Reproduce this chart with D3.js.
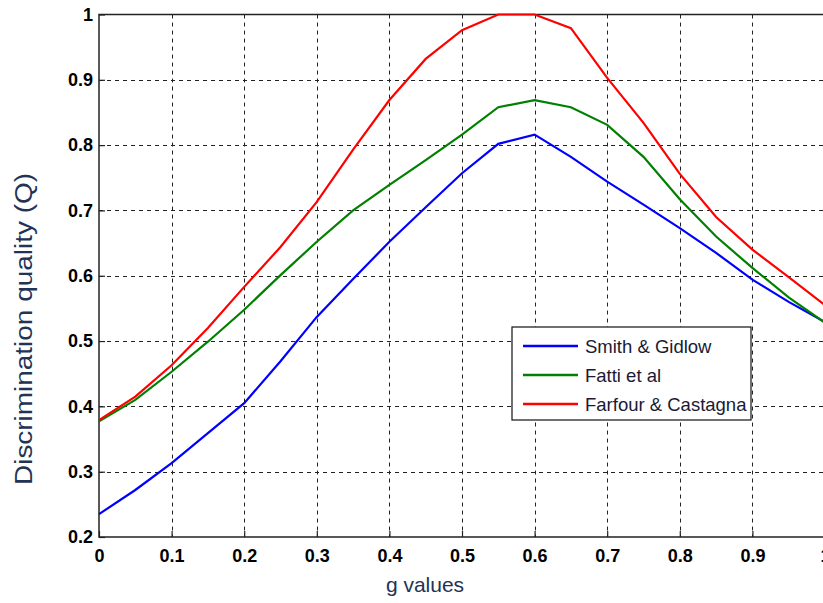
<!DOCTYPE html>
<html>
<head>
<meta charset="utf-8">
<script src="https://cdn.jsdelivr.net/npm/d3@7"></script>
<style>
  body { margin: 0; background: #fff; }
  svg { display: block; font-family: "Liberation Sans", Arial, sans-serif; }
</style>
</head>
<body>
<div id="chart"></div>
<script>
(function() {
var width = 823,
  height = 603;

// g values sampled every 0.05
var gValues = [0, 0.05, 0.1, 0.15, 0.2, 0.25, 0.3, 0.35, 0.4, 0.45, 0.5,
  0.55, 0.6, 0.65, 0.7, 0.75, 0.8, 0.85, 0.9, 0.95, 1.0];

var smithGidlow = [0.235, 0.272, 0.313, 0.359, 0.405, 0.469, 0.537, 0.595, 0.652, 0.705, 0.757,
  0.802, 0.816, 0.782, 0.744, 0.709, 0.673, 0.635, 0.594, 0.560, 0.529];
var fattiEtAl = [0.377, 0.410, 0.453, 0.499, 0.548, 0.601, 0.652, 0.700, 0.739, 0.777, 0.816,
  0.858, 0.869, 0.858, 0.831, 0.782, 0.717, 0.660, 0.612, 0.567, 0.528];
var farfourCastagna = [0.379, 0.415, 0.463, 0.520, 0.583, 0.644, 0.713, 0.793, 0.869, 0.932, 0.976,
  1.0, 1.0, 0.979, 0.903, 0.834, 0.756, 0.690, 0.640, 0.598, 0.555];

var seriesNames = ["Smith & Gidlow", "Fatti et al", "Farfour & Castagna"];
var seriesColors = ["#0000ff", "#008000", "#ff0000"];
var seriesValues = [smithGidlow, fattiEtAl, farfourCastagna];

var xTicks = [0, 0.1, 0.2, 0.3, 0.4, 0.5, 0.6, 0.7, 0.8, 0.9, 1];
var yTicks = [0.2, 0.3, 0.4, 0.5, 0.6, 0.7, 0.8, 0.9, 1];

var svg = d3.select("#chart")
  .append("svg")
  .attr("width", width)
  .attr("height", height)

var x = d3.scaleLinear().domain([0, 1]).range([99, 825])
var y = d3.scaleLinear().domain([0.2, 1]).range([537, 14.5])

// grid
var grid = svg.append("g")
  .attr("stroke", "#222")
  .attr("stroke-width", 1)
  .attr("stroke-dasharray", "4,4")

grid.selectAll(".vgrid")
  .data(xTicks.slice(1))
  .enter().append("line")
  .attr("x1", function(d) { return Math.round(x(d)) + 0.5 })
  .attr("x2", function(d) { return Math.round(x(d)) + 0.5 })
  .attr("y1", y(1))
  .attr("y2", y(0.2))

grid.selectAll(".hgrid")
  .data(yTicks.slice(1, -1))
  .enter().append("line")
  .attr("x1", x(0))
  .attr("x2", x(1))
  .attr("y1", function(d) { return Math.round(y(d)) + 0.5 })
  .attr("y2", function(d) { return Math.round(y(d)) + 0.5 })

// axes
var xAxis = svg.append("g")
  .attr("transform", "translate(0," + y(0.2) + ")")
  .call(d3.axisBottom(x).tickValues(xTicks).tickSize(-6).tickPadding(12)
    .tickFormat(function(d) { return d3.format("")(+d.toFixed(1)) }))
var yAxis = svg.append("g")
  .attr("transform", "translate(" + x(0) + ",0)")
  .call(d3.axisLeft(y).tickValues(yTicks).tickSize(-6).tickPadding(6)
    .tickFormat(function(d) { return d3.format("")(+d.toFixed(1)) }))

;[xAxis, yAxis].forEach(function(a) {
  a.select(".domain").remove()
  a.selectAll(".tick line").attr("stroke", "#222").attr("stroke-width", 1.2)
  a.selectAll(".tick text")
    .attr("fill", "#000")
    .style("font-size", "18px")
    .style("font-weight", "bold")
})

// frame
svg.append("path")
  .attr("d", "M" + x(1) + "," + y(1) + "H" + x(0) + "V" + y(0.2) + "H" + x(1))
  .attr("fill", "none")
  .attr("stroke", "#222")
  .attr("stroke-width", 1.5)

// lines
var line = d3.line()
  .x(function(d, i) { return x(gValues[i]) })
  .y(function(d) { return y(d) })

svg.selectAll(".series")
  .data(seriesValues)
  .enter().append("path")
  .attr("class", "series")
  .attr("d", line)
  .attr("fill", "none")
  .attr("stroke", function(d, i) { return seriesColors[i] })
  .attr("stroke-width", 2.2)

// legend
var legend = svg.append("g").attr("transform", "translate(512,327)")
legend.append("rect")
  .attr("width", 239)
  .attr("height", 93)
  .attr("fill", "#fff")
  .attr("stroke", "#111")
  .attr("stroke-width", 1.2)

var items = legend.selectAll(".item")
  .data(seriesNames)
  .enter().append("g")
  .attr("transform", function(d, i) { return "translate(0," + (19 + i * 29) + ")" })
items.append("line")
  .attr("x1", 11).attr("x2", 66)
  .attr("stroke", function(d, i) { return seriesColors[i] })
  .attr("stroke-width", 2.5)
items.append("text")
  .attr("x", 73)
  .attr("dy", "0.36em")
  .attr("fill", "#1a1a33")
  .style("font-size", "18.5px")
  .text(function(d) { return d })

// axis titles
svg.append("text")
  .attr("x", 425)
  .attr("y", 592)
  .attr("text-anchor", "middle")
  .attr("fill", "#223355")
  .style("font-size", "21px")
  .text("g values")

svg.append("text")
  .attr("transform", "translate(32,329) rotate(-90)")
  .attr("text-anchor", "middle")
  .attr("fill", "#223355")
  .style("font-size", "23px")
  .attr("textLength", 312)
  .attr("lengthAdjust", "spacingAndGlyphs")
  .text("Discrimination quality (Q)")
})();
</script>
</body>
</html>
